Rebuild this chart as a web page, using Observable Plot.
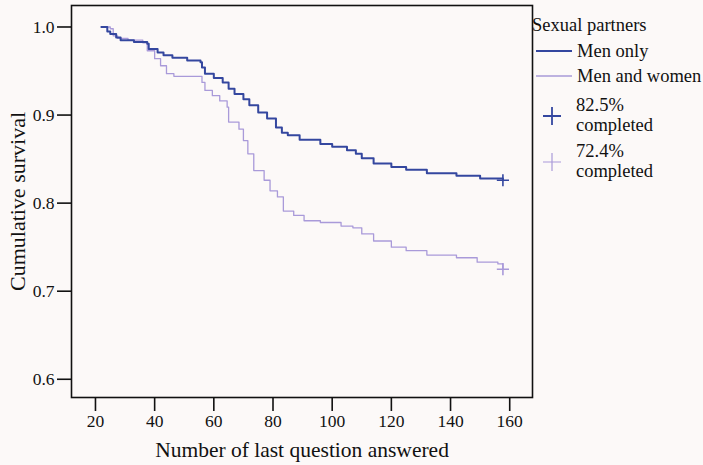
<!DOCTYPE html>
<html>
<head>
<meta charset="utf-8">
<script src="https://cdn.jsdelivr.net/npm/d3@7"></script>
<script src="https://cdn.jsdelivr.net/npm/@observablehq/plot@0.6"></script>
<style>
  html, body { margin: 0; padding: 0; background: #fcf9f8; }
  #wrap { position: relative; width: 703px; height: 465px; font-family: "Liberation Serif", "DejaVu Serif", serif; color: #111; }
  #legend { position: absolute; left: 0; top: 0; font-size: 18.5px; line-height: 20px; }
  .lg { position: absolute; white-space: nowrap; }
</style>
</head>
<body>
<div id="wrap">
  <div id="chart"></div>
  <div id="legend"></div>
</div>
<script>
// Series: Kaplan–Meier style cumulative survival by last question answered
const seriesNames = ["Men only", "Men and women"];
const seriesColors = ["#34479f", "#a99ad9"];
const legendTitle = "Sexual partners";
const completedLabels = ["82.5%", "72.4%"];

const menOnlyX = [22, 24, 25, 27, 28.5, 33, 37.5, 38, 41, 43, 46, 51, 55.5, 56, 57, 60, 63, 65, 67, 70, 72, 75, 78, 81, 83, 85, 89, 96, 100, 105, 108, 110, 114, 120, 125, 132, 142, 150, 157.7];
const menOnlyY = [1.000, 0.995, 0.992, 0.988, 0.985, 0.983, 0.981, 0.975, 0.971, 0.968, 0.965, 0.962, 0.960, 0.954, 0.947, 0.942, 0.937, 0.930, 0.924, 0.918, 0.911, 0.903, 0.896, 0.886, 0.880, 0.877, 0.872, 0.867, 0.864, 0.860, 0.856, 0.851, 0.845, 0.841, 0.838, 0.834, 0.831, 0.828, 0.826];

const menWomenX = [22, 25, 26, 27.5, 31, 36, 37.5, 40, 42, 44, 46.5, 54.5, 56, 57, 59.5, 62, 64.5, 65, 68.5, 70, 71.5, 73.5, 77, 79, 81.5, 83.5, 87, 90.5, 96, 103, 107, 110, 114, 120, 125, 132, 142, 149, 156, 157.7];
const menWomenY = [1.000, 0.998, 0.990, 0.987, 0.985, 0.982, 0.973, 0.964, 0.956, 0.947, 0.944, 0.944, 0.937, 0.928, 0.922, 0.916, 0.909, 0.892, 0.884, 0.871, 0.856, 0.837, 0.826, 0.814, 0.807, 0.791, 0.786, 0.780, 0.778, 0.774, 0.772, 0.765, 0.757, 0.750, 0.746, 0.741, 0.738, 0.733, 0.731, 0.725];

const xTicks = [20, 40, 60, 80, 100, 120, 140, 160];
const yTicks = [0.6, 0.7, 0.8, 0.9, 1.0];
const xLabel = "Number of last question answered";
const yLabel = "Cumulative survival";

const rows = [
  ...menOnlyX.map((x, i) => ({x, y: menOnlyY[i], s: seriesNames[0]})),
  ...menWomenX.map((x, i) => ({x, y: menWomenY[i], s: seriesNames[1]}))
];
const ends = [
  {x: menOnlyX[menOnlyX.length - 1], y: menOnlyY[menOnlyY.length - 1], s: seriesNames[0]},
  {x: menWomenX[menWomenX.length - 1], y: menWomenY[menWomenY.length - 1], s: seriesNames[1]}
];

const chart = Plot.plot({
  width: 703,
  height: 465,
  marginLeft: 71,
  marginRight: 171,
  marginTop: 5,
  marginBottom: 68,
  style: {background: "transparent", fontFamily: "Liberation Serif, serif", fontSize: "17.5px", color: "#111"},
  x: {domain: [11.9, 167.7]},
  y: {domain: [0.5793, 1.0244]},
  color: {domain: seriesNames, range: seriesColors},
  marks: [
    Plot.frame({stroke: "#111", strokeWidth: 1.6}),
    Plot.axisX({ticks: xTicks, tickSize: 14, tickPadding: 3, strokeWidth: 1.6, label: null, fontSize: 17.5}),
    Plot.axisY({ticks: yTicks, tickSize: 14, tickPadding: 3, strokeWidth: 1.6, label: null, fontSize: 17.5, tickFormat: d3.format(".1f")}),
    Plot.line(rows.filter(d => d.s === seriesNames[1]), {x: "x", y: "y", stroke: "s", curve: "step-after", strokeWidth: 1.3}),
    Plot.line(rows.filter(d => d.s === seriesNames[0]), {x: "x", y: "y", stroke: "s", curve: "step-after", strokeWidth: 2}),
    Plot.dot(ends, {x: "x", y: "y", stroke: "s", symbol: "plus", r: 4, strokeWidth: 1.6}),
    Plot.text([xLabel], {frameAnchor: "bottom", dy: 53, text: d => d, fontSize: 21.5, lineAnchor: "middle", textAnchor: "middle"}),
    Plot.text([yLabel], {frameAnchor: "left", dx: -54, text: d => d, fontSize: 22, rotate: -90, lineAnchor: "middle", textAnchor: "middle"})
  ]
});
document.getElementById("chart").appendChild(chart);

// Legend (HTML)
const lg = document.getElementById("legend");
function add(html, left, top) {
  const d = document.createElement("div");
  d.className = "lg";
  d.style.left = left + "px";
  d.style.top = top + "px";
  d.innerHTML = html;
  lg.appendChild(d);
}
add(legendTitle, 532, 15);
const lineSw = (c, w) => `<svg width="36" height="6" style="position:absolute;left:-41px;top:7px"><line x1="0" x2="36" y1="3" y2="3" stroke="${c}" stroke-width="${w}"/></svg>`;
const plusSw = (c, w) => `<svg width="20" height="20" style="position:absolute;left:-34px;top:11px"><path d="M10 1V19M1 10H19" stroke="${c}" stroke-width="${w}" fill="none"/></svg>`;
add(lineSw(seriesColors[0], 2) + seriesNames[0], 577, 41);
add(lineSw(seriesColors[1], 1.3) + seriesNames[1], 577, 66);
add(plusSw(seriesColors[0], 1.8) + completedLabels[0] + "<br>completed", 576, 95);
add(plusSw(seriesColors[1], 1.2) + completedLabels[1] + "<br>completed", 576, 141);
</script>
</body>
</html>
